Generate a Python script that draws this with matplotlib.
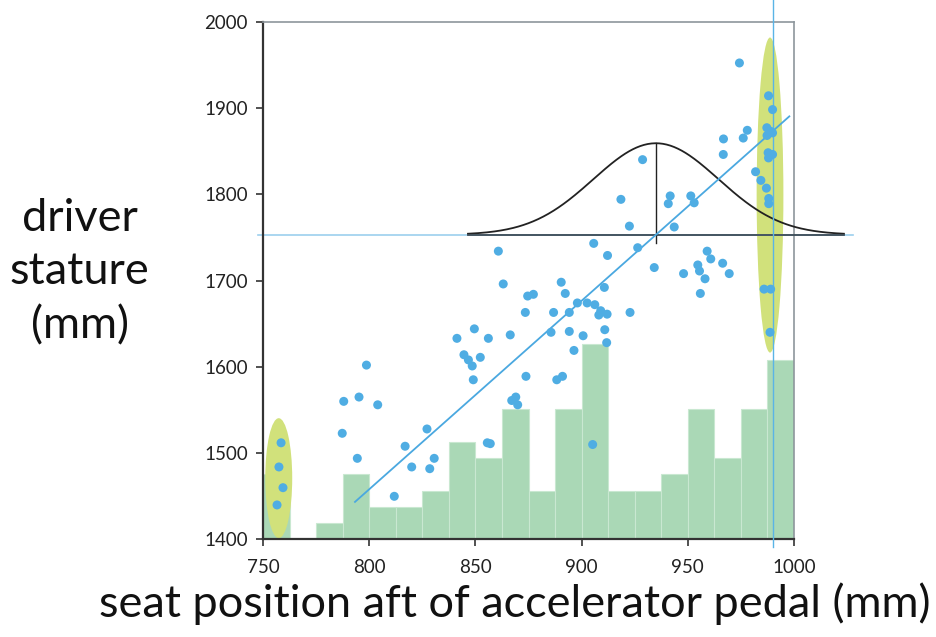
import numpy as np
import matplotlib
matplotlib.use("Agg")
import matplotlib.pyplot as plt
from matplotlib.patches import Ellipse

plt.rcParams['font.family'] = ['Lato', 'DejaVu Sans']

# Driver data: seat position aft of the accelerator pedal (mm) and stature (mm)
seat_position = [
    758.5, 757.5, 759.4, 756.6,
    788.0, 795.2, 798.7, 804.0, 787.3, 794.4, 811.8, 816.9, 820.0, 827.2,
    830.6, 828.5, 841.3, 844.6, 846.7, 848.5, 849.5, 852.3, 849.0, 856.1,
    855.6, 857.0, 860.8, 863.1, 866.4, 867.1, 869.0, 869.9, 873.8, 873.5,
    874.6, 877.3, 885.6, 886.8, 888.3, 891.0, 890.4, 892.3, 894.2, 894.2,
    896.4, 898.0, 900.7, 902.6, 906.2, 905.2, 905.7, 908.1, 909.0, 910.7,
    910.9, 911.8, 912.2, 912.0, 918.5, 922.5, 922.8, 926.4, 928.7, 934.2,
    940.8, 941.7, 943.6, 948.0, 951.4, 953.0, 954.7, 955.5, 955.9, 958.1,
    959.1, 960.8, 966.4, 966.8, 966.7, 969.5, 974.3, 976.1, 978.0, 981.9,
    984.4, 985.9, 987.0, 988.0, 989.9, 987.2, 987.3, 989.9, 988.8, 987.8,
    989.9, 988.0, 988.1, 988.1, 989.0, 988.7,
]
stature = [
    1512, 1484, 1460, 1440,
    1560, 1565, 1602, 1556, 1523, 1494, 1450, 1508, 1484, 1528,
    1494, 1482, 1633, 1614, 1608, 1601, 1644, 1611, 1585, 1633,
    1512, 1511, 1734, 1696, 1637, 1561, 1565, 1556, 1589, 1663,
    1682, 1684, 1640, 1663, 1585, 1589, 1698, 1685, 1663, 1641,
    1619, 1674, 1636, 1674, 1672, 1510, 1743, 1660, 1665, 1692,
    1643, 1628, 1729, 1661, 1794, 1763, 1663, 1738, 1840, 1715,
    1789, 1798, 1762, 1708, 1798, 1790, 1718, 1711, 1685, 1702,
    1734, 1725, 1720, 1864, 1846, 1708, 1952, 1865, 1874, 1826,
    1816, 1690, 1807, 1914, 1898, 1877, 1868, 1871, 1873, 1848,
    1846, 1842, 1795, 1789, 1690, 1640,
]

# Histogram of seat position (12.5 mm bins from 750 to 1000 mm)
bin_edges = np.arange(750, 1000.1, 12.5)
bin_counts = [4, 0, 1, 4, 2, 2, 3, 6, 5, 8, 3, 8, 12, 3, 3, 4, 8, 5, 8, 11]

# Summary statistics
mean_position = 935.0
sd_position = 29.5
mean_stature = 1753.0
fit_slope = 2.184
fit_range = [793.3, 997.8]
limit_position = 990.0

# Highlighted groups of drivers (centre x, centre y, width, height)
groups = [
    (757.4, 1471.0, 12.7, 139.0),
    (988.7, 1799.0, 12.6, 365.0),
]

x_ticks = [750, 800, 850, 900, 950, 1000]
y_ticks = [1400, 1500, 1600, 1700, 1800, 1900, 2000]

point_blue = '#4fade3'
bar_green = '#aad8b6'
ellipse_green = '#d1e17b'

fig = plt.figure(figsize=(9.37, 6.37), dpi=100)
ax = fig.add_axes([0.2807, 0.1531, 0.5667, 0.8131])
ax_hist = ax.twinx()

# Histogram sits behind the scatter axes
ax.set_zorder(ax_hist.get_zorder() + 1)
ax.patch.set_visible(False)

ax_hist.bar(bin_edges[:-1], bin_counts, width=np.diff(bin_edges), align='edge',
            color=bar_green, edgecolor='#c9e8d1', linewidth=0.8)
ax_hist.set_ylim(0, 600 / 18.85)
ax_hist.set_yticks([])
for s in ax_hist.spines.values():
    s.set_visible(False)

# Highlight ellipses
for cx, cy, w, h in groups:
    ax.add_patch(Ellipse((cx, cy), w, h, facecolor=ellipse_green,
                         edgecolor='none', zorder=1))

# Reference lines at mean stature and the seat-track limit
ax.plot([747.5, 1028], [mean_stature, mean_stature], color='#9ccfee',
        lw=1.2, clip_on=False, zorder=2)
ax.plot([limit_position, limit_position], [1391, 2026], color='#5ab4e6',
        lw=1.0, clip_on=False, zorder=4)

# Normal distribution of seat position on the mean-stature baseline
xs = np.linspace(mean_position - 3 * sd_position, mean_position + 3 * sd_position, 300)
curve = mean_stature + 106 * np.exp(-0.5 * ((xs - mean_position) / sd_position) ** 2)
ax.plot(xs, curve, color='#222222', lw=1.3, zorder=3, clip_on=False)
ax.plot([xs[0], xs[-1]], [mean_stature, mean_stature], color='#3d4b55',
        lw=1.3, zorder=3, clip_on=False)
ax.plot([mean_position, mean_position], [1744, mean_stature + 106],
        color='#222222', lw=1.0, zorder=3)

# Regression line through the means
fit_x = np.array(fit_range)
fit_y = mean_stature + fit_slope * (fit_x - mean_position)
ax.plot(fit_x, fit_y, color='#4aa8e0', lw=1.3, zorder=4)

ax.scatter(seat_position, stature, s=42, color=point_blue, edgecolors='none',
           zorder=5)

ax.set_xlim(750, 1000)
ax.set_ylim(1400, 2000)
ax.set_xticks(x_ticks)
ax.set_yticks(y_ticks)
ax.tick_params(direction='out', length=5, width=1.2, color='#333333',
               labelsize=13.5, labelcolor='#222222', pad=6)
ax.tick_params(axis='x', pad=9)
for side in ('left', 'bottom'):
    ax.spines[side].set_color('#333333')
    ax.spines[side].set_linewidth(1.6)
for side in ('top', 'right'):
    ax.spines[side].set_color('#8d969c')
    ax.spines[side].set_linewidth(1.2)

fig.text(0.085, 0.573, 'driver\nstature\n(mm)', ha='center', va='center',
         fontsize=32.5, linespacing=1.38, color='#111111')
fig.text(0.549, 0.052, 'seat position aft of accelerator pedal (mm)',
         ha='center', va='center', fontsize=32.5, color='#111111')

fig.savefig('out.png', dpi=100)
